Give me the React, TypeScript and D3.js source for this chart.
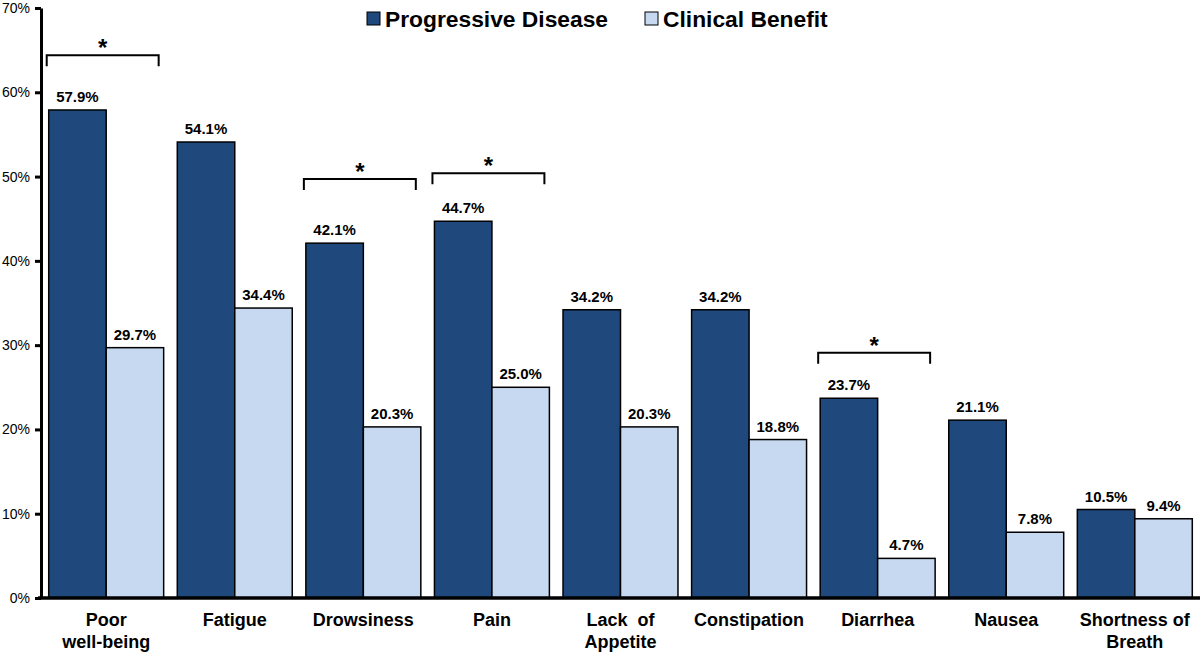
import { useEffect, useRef } from 'react';
import * as d3 from 'd3';

const categories = [
  'Poor|well-being',
  'Fatigue',
  'Drowsiness',
  'Pain',
  'Lack  of|Appetite',
  'Constipation',
  'Diarrhea',
  'Nausea',
  'Shortness of|Breath',
];
const progressive = [57.9, 54.1, 42.1, 44.7, 34.2, 34.2, 23.7, 21.1, 10.5];
const clinical = [29.7, 34.4, 20.3, 25.0, 20.3, 18.8, 4.7, 7.8, 9.4];
const yTicks = [0, 10, 20, 30, 40, 50, 60, 70];
// significance brackets: category index + level (%) of the horizontal line
const bracketIdx = [0, 2, 3, 6];
const bracketLevel = [64.4, 49.7, 50.4, 29.1];

const series = [
  { key: 'Progressive Disease', values: progressive, color: '#1F497D' },
  { key: 'Clinical Benefit', values: clinical, color: '#C6D9F1' },
];

const W = 1200;
const H = 654;
const FONT = '"Liberation Sans", Arial, Helvetica, sans-serif';

export default function App() {
  const svgRef = useRef<SVGSVGElement>(null);

  useEffect(() => {
    document.body.style.margin = '0';
    if (!svgRef.current) return;
    const svg = d3.select(svgRef.current);
    svg.selectAll('*').remove();

    const x0 = d3
      .scaleBand<number>()
      .domain(categories.map((_, i) => i))
      .range([41, 1200])
      .paddingInner(0.106)
      .paddingOuter(0.06);
    const x1 = d3
      .scaleBand<number>()
      .domain([0, 1])
      .range([0, x0.bandwidth()]);
    const y = d3.scaleLinear().domain([0, 70]).range([598, 8]);

    // bars
    series.forEach((s, si) => {
      const g = svg.append('g');
      g.selectAll('rect')
        .data(s.values)
        .enter()
        .append('rect')
        .attr('x', (_, i) => (x0(i) || 0) + (x1(si) || 0))
        .attr('y', (d) => y(d))
        .attr('width', x1.bandwidth())
        .attr('height', (d) => y(0) - y(d))
        .attr('fill', s.color)
        .attr('stroke', '#000')
        .attr('stroke-width', 1.5);

      g.selectAll('text')
        .data(s.values)
        .enter()
        .append('text')
        .attr('x', (_, i) => (x0(i) || 0) + (x1(si) || 0) + x1.bandwidth() / 2)
        .attr('y', (d) => y(d) - 8)
        .attr('text-anchor', 'middle')
        .style('font-family', FONT)
        .style('font-weight', 'bold')
        .style('font-size', '15px')
        .attr('fill', '#000')
        .text((d) => d.toFixed(1) + '%');
    });

    // y axis
    const yAxis = svg
      .append('g')
      .attr('transform', 'translate(41,0)')
      .call(
        d3
          .axisLeft(y)
          .tickValues(yTicks)
          .tickSize(6)
          .tickSizeOuter(0)
          .tickFormat((d) => `${d}%`)
      );
    yAxis.select('.domain').attr('stroke', '#000').attr('stroke-width', 3);
    yAxis.selectAll('.tick line').attr('stroke', '#000').attr('stroke-width', 3);
    yAxis
      .selectAll('.tick text')
      .attr('x', -11)
      .attr('fill', '#000')
      .style('font-family', FONT)
      .style('font-size', '14px');

    // x axis baseline
    svg
      .append('line')
      .attr('x1', 38)
      .attr('x2', 1200)
      .attr('y1', y(0))
      .attr('y2', y(0))
      .attr('stroke', '#000')
      .attr('stroke-width', 3.5);

    // category labels
    categories.forEach((c, i) => {
      const t = svg
        .append('text')
        .attr('text-anchor', 'middle')
        .style('font-family', FONT)
        .style('font-weight', 'bold')
        .style('font-size', '18px')
        .style('white-space', 'pre')
        .attr('fill', '#000');
      c.split('|').forEach((line, li) => {
        t.append('tspan')
          .attr('x', (x0(i) || 0) + x0.bandwidth() / 2)
          .attr('y', 626 + li * 22)
          .text(line);
      });
    });

    // significance brackets
    bracketIdx.forEach((ci, k) => {
      const xa = (x0(ci) || 0) - 2;
      const xb = (x0(ci) || 0) + x0.bandwidth() - 5;
      const yl = y(bracketLevel[k]);
      svg
        .append('path')
        .attr('d', `M${xa},${yl + 11}V${yl}H${xb}V${yl + 11}`)
        .attr('fill', 'none')
        .attr('stroke', '#000')
        .attr('stroke-width', 2);
      svg
        .append('text')
        .attr('x', (xa + xb) / 2)
        .attr('y', yl + 1)
        .attr('text-anchor', 'middle')
        .style('font-family', FONT)
        .style('font-weight', 'bold')
        .style('font-size', '24px')
        .text('*');
    });

    // legend
    const legendX = [367, 645];
    series.forEach((s, i) => {
      svg
        .append('rect')
        .attr('x', legendX[i])
        .attr('y', 12)
        .attr('width', 13)
        .attr('height', 13)
        .attr('fill', s.color)
        .attr('stroke', '#000')
        .attr('stroke-width', 1);
      svg
        .append('text')
        .attr('x', legendX[i] + 18)
        .attr('y', 27)
        .style('font-family', FONT)
        .style('font-weight', 'bold')
        .style('font-size', '22.8px')
        .attr('fill', '#000')
        .text(s.key);
    });
  }, []);

  return <svg ref={svgRef} width={W} height={H} style={{ display: 'block', background: '#fff' }} />;
}
